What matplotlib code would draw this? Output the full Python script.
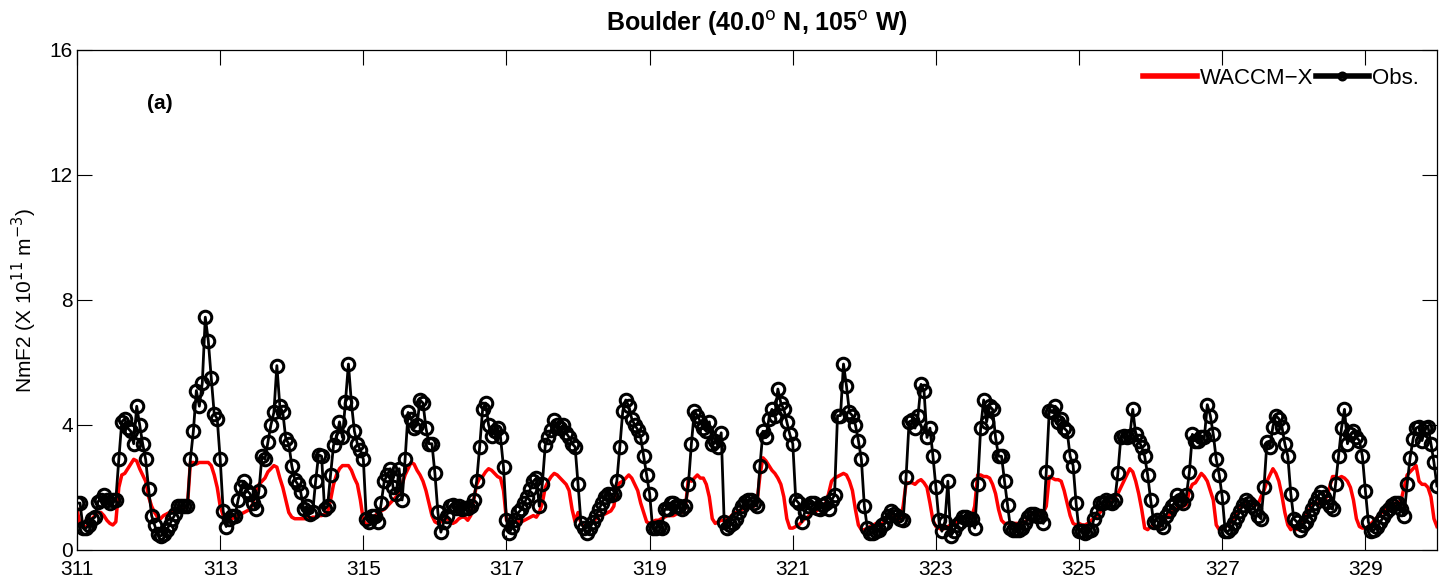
import numpy as np
import matplotlib
matplotlib.use("Agg")
import matplotlib.pyplot as plt

plt.rcParams["font.family"] = ["Liberation Sans", "DejaVu Sans"]

days = list(range(311, 330))

# observed NmF2, hourly values per day (x 10^11 m^-3)
obs_311 = [1.5, 1.5, 0.7, 0.7, 0.8, 1.0, 1.05, 1.55, 1.6, 1.75, 1.6, 1.5, 1.6, 1.6, 2.9, 4.1, 4.2, 3.9, 3.8, 3.4, 4.6, 4.0, 3.4, 2.9]
obs_312 = [1.95, 1.1, 0.8, 0.5, 0.45, 0.5, 0.65, 0.8, 1.0, 1.15, 1.4, 1.4, 1.4, 1.4, 2.9, 3.8, 5.1, 4.6, 5.35, 7.45, 6.7, 5.5, 4.35, 4.2]
obs_313 = [2.9, 1.25, 0.75, 1.0, 1.1, 1.1, 1.6, 2.0, 2.2, 1.9, 1.8, 1.5, 1.3, 1.9, 3.0, 2.9, 3.45, 4.0, 4.4, 5.9, 4.6, 4.4, 3.55, 3.4]
obs_314 = [2.7, 2.25, 2.1, 1.85, 1.3, 1.4, 1.15, 1.2, 2.2, 3.05, 3.0, 1.3, 1.4, 2.4, 3.35, 3.6, 4.1, 3.6, 4.75, 5.95, 4.7, 3.8, 3.4, 3.2]
obs_315 = [2.9, 1.0, 0.9, 1.1, 1.1, 0.9, 1.5, 2.2, 2.4, 2.6, 2.0, 1.8, 2.6, 1.6, 2.9, 4.4, 4.2, 3.9, 4.0, 4.8, 4.7, 3.9, 3.4, 3.4]
obs_316 = [2.45, 1.2, 0.57, 0.9, 1.1, 1.4, 1.45, 1.35, 1.4, 1.3, 1.35, 1.35, 1.4, 1.6, 2.2, 3.3, 4.5, 4.7, 4.0, 3.65, 3.8, 3.9, 3.6, 2.65]
obs_317 = [0.95, 0.55, 0.75, 0.95, 1.2, 1.3, 1.5, 1.7, 1.95, 2.2, 2.3, 1.4, 2.1, 3.35, 3.6, 3.85, 4.15, 4.0, 3.9, 4.0, 3.75, 3.6, 3.4, 3.3]
obs_318 = [2.1, 0.85, 0.7, 0.55, 0.7, 0.9, 1.1, 1.3, 1.5, 1.7, 1.8, 1.75, 1.8, 2.2, 3.3, 4.45, 4.8, 4.6, 4.2, 4.0, 3.85, 3.6, 3.0, 2.4]
obs_319 = [1.8, 0.7, 0.7, 0.75, 0.7, 1.3, 1.3, 1.5, 1.5, 1.4, 1.4, 1.3, 1.4, 2.1, 3.4, 4.45, 4.3, 4.1, 3.9, 3.8, 4.1, 3.4, 3.5, 3.3]
obs_320 = [3.75, 0.9, 0.7, 0.8, 0.85, 1.0, 1.2, 1.4, 1.55, 1.6, 1.6, 1.5, 1.4, 2.7, 3.8, 3.6, 4.2, 4.5, 4.3, 5.15, 4.7, 4.5, 4.1, 3.7]
obs_321 = [3.4, 1.6, 1.5, 0.9, 1.2, 1.4, 1.5, 1.5, 1.35, 1.3, 1.45, 1.5, 1.3, 1.6, 1.75, 4.3, 4.3, 5.95, 5.25, 4.4, 4.3, 4.0, 3.5, 2.9]
obs_322 = [1.4, 0.7, 0.55, 0.55, 0.6, 0.65, 0.8, 0.85, 1.1, 1.25, 1.15, 1.1, 1.0, 0.95, 2.35, 4.1, 4.15, 3.9, 4.3, 5.3, 5.1, 3.6, 3.9, 3.0]
obs_323 = [2.0, 0.95, 0.6, 0.9, 2.2, 0.45, 0.6, 0.8, 0.9, 1.05, 1.05, 1.0, 1.0, 0.7, 2.1, 3.9, 4.8, 4.1, 4.6, 4.5, 3.6, 3.0, 3.0, 2.2]
obs_324 = [1.45, 0.7, 0.65, 0.65, 0.65, 0.7, 0.85, 1.05, 1.15, 1.15, 1.1, 1.1, 0.85, 2.5, 4.45, 4.4, 4.6, 4.1, 4.2, 3.9, 3.8, 3.0, 2.7, 1.5]
obs_325 = [0.6, 0.6, 0.55, 0.6, 0.65, 1.0, 1.2, 1.5, 1.5, 1.6, 1.55, 1.5, 1.6, 2.45, 3.6, 3.65, 3.6, 3.65, 4.5, 3.7, 3.5, 3.3, 3.0, 2.4]
obs_326 = [1.6, 0.9, 0.95, 0.85, 0.75, 1.1, 1.25, 1.4, 1.5, 1.75, 1.6, 1.5, 1.75, 2.5, 3.7, 3.5, 3.5, 3.6, 3.6, 4.65, 4.3, 3.7, 2.9, 2.4]
obs_327 = [1.7, 0.6, 0.6, 0.7, 0.85, 1.05, 1.25, 1.45, 1.6, 1.5, 1.4, 1.3, 1.1, 1.0, 2.0, 3.45, 3.3, 3.95, 4.3, 4.2, 3.95, 3.4, 3.0, 1.8]
obs_328 = [1.0, 0.9, 0.65, 0.8, 0.9, 1.1, 1.3, 1.5, 1.7, 1.85, 1.7, 1.55, 1.4, 1.3, 2.1, 3.0, 3.9, 4.5, 3.4, 3.7, 3.8, 3.6, 3.5, 3.0]
obs_329 = [1.9, 0.9, 0.6, 0.65, 0.75, 0.9, 1.05, 1.2, 1.3, 1.45, 1.5, 1.5, 1.3, 1.1, 2.1, 2.95, 3.55, 3.9, 3.95, 3.5, 3.9, 3.95, 3.4, 2.8]
obs_end = 2.05

# WACCM-X NmF2, hourly values per day
mod_311 = [1.3, 0.8, 0.75, 0.75, 0.8, 1.0, 1.1, 1.2, 1.2, 1.1, 0.95, 0.85, 0.8, 0.9, 2.0, 2.4, 2.45, 2.6, 2.75, 2.9, 2.85, 2.6, 2.4, 2.2]
mod_312 = [1.7, 1.4, 1.2, 1.05, 1.0, 1.1, 1.15, 1.2, 1.25, 1.3, 1.3, 1.3, 1.35, 1.4, 2.8, 2.8, 2.75, 2.8, 2.8, 2.8, 2.8, 2.7, 2.4, 2.0]
mod_313 = [1.4, 1.1, 0.95, 0.95, 1.0, 1.05, 1.1, 1.15, 1.2, 1.25, 1.3, 1.5, 1.9, 2.1, 2.2, 2.3, 2.5, 2.6, 2.7, 2.65, 2.3, 2.0, 1.6, 1.2]
mod_314 = [1.05, 1.0, 1.0, 1.0, 1.0, 1.0, 1.0, 1.05, 1.05, 1.1, 1.1, 1.15, 1.2, 1.6, 2.1, 2.4, 2.6, 2.7, 2.7, 2.7, 2.55, 2.3, 2.1, 1.6]
mod_315 = [0.95, 0.8, 0.85, 1.0, 1.1, 1.2, 1.25, 1.3, 1.4, 1.5, 1.6, 1.7, 1.8, 2.1, 2.4, 2.6, 2.8, 2.75, 2.55, 2.4, 2.2, 1.9, 1.5, 1.1]
mod_316 = [0.9, 0.85, 0.9, 0.95, 1.0, 0.95, 0.85, 0.9, 1.0, 1.05, 1.05, 0.95, 1.1, 1.6, 2.1, 2.3, 2.35, 2.5, 2.6, 2.55, 2.45, 2.35, 2.3, 1.9]
mod_317 = [0.95, 0.9, 0.9, 0.9, 0.9, 0.9, 0.95, 1.0, 1.05, 1.1, 1.05, 1.2, 1.5, 2.0, 2.2, 2.35, 2.45, 2.4, 2.3, 2.2, 2.1, 1.9, 1.3, 0.9]
mod_318 = [1.2, 0.85, 0.75, 0.75, 0.8, 0.9, 1.0, 1.1, 1.1, 1.15, 1.2, 1.25, 1.4, 2.0, 2.15, 2.2, 2.3, 2.4, 2.3, 2.1, 1.9, 1.5, 1.2, 0.9]
mod_319 = [0.85, 0.9, 0.95, 0.95, 1.0, 1.05, 1.1, 1.1, 1.1, 1.15, 1.2, 1.2, 1.35, 2.3, 2.2, 2.3, 2.4, 2.3, 2.3, 2.1, 1.7, 1.0, 0.85, 0.9]
mod_320 = [0.95, 0.95, 1.0, 1.05, 1.15, 1.2, 1.25, 1.3, 1.35, 1.4, 1.4, 1.4, 1.5, 2.4, 2.95, 2.85, 2.7, 2.55, 2.45, 2.3, 2.1, 1.7, 1.0, 0.7]
mod_321 = [0.7, 0.75, 0.8, 0.9, 1.0, 1.05, 1.15, 1.2, 1.25, 1.35, 1.4, 1.5, 1.8, 2.2, 2.3, 2.35, 2.4, 2.45, 2.4, 2.2, 1.9, 1.3, 0.8, 0.65]
mod_322 = [0.65, 0.7, 0.75, 0.8, 0.85, 0.8, 0.85, 0.95, 1.05, 1.1, 1.1, 1.05, 0.95, 1.4, 2.15, 2.15, 2.15, 2.1, 2.2, 2.25, 2.15, 2.0, 1.5, 0.95]
mod_323 = [0.75, 0.7, 0.65, 0.7, 0.75, 0.8, 0.85, 0.9, 0.95, 1.0, 1.05, 1.05, 1.05, 1.4, 2.4, 2.4, 2.35, 2.35, 2.3, 2.1, 1.8, 1.3, 0.95, 0.85]
mod_324 = [0.85, 0.85, 0.85, 0.85, 0.85, 0.85, 0.9, 1.0, 1.15, 1.2, 1.2, 1.2, 1.2, 1.4, 2.35, 2.3, 2.25, 2.25, 2.2, 1.9, 1.5, 1.1, 0.85, 0.8]
mod_325 = [0.85, 0.8, 0.8, 0.85, 0.95, 1.0, 1.1, 1.2, 1.3, 1.35, 1.45, 1.55, 1.7, 1.8, 2.0, 2.2, 2.4, 2.6, 2.5, 2.2, 1.8, 1.3, 0.7, 0.65]
mod_326 = [0.75, 0.7, 0.7, 0.75, 0.85, 1.0, 1.1, 1.2, 1.3, 1.35, 1.35, 1.4, 1.45, 1.9, 2.1, 2.15, 2.3, 2.45, 2.35, 2.2, 1.9, 1.6, 0.8, 0.65]
mod_327 = [0.7, 0.75, 0.8, 0.9, 1.05, 1.2, 1.35, 1.4, 1.45, 1.45, 1.45, 1.45, 1.45, 1.7, 1.9, 2.2, 2.4, 2.6, 2.45, 2.2, 1.75, 1.2, 0.8, 0.65]
mod_328 = [0.75, 0.65, 0.75, 0.9, 1.1, 1.25, 1.4, 1.5, 1.5, 1.45, 1.5, 1.7, 2.0, 2.35, 2.35, 2.3, 2.35, 2.3, 2.2, 2.0, 1.6, 1.0, 0.75, 0.7]
mod_329 = [0.7, 0.75, 0.85, 0.95, 1.05, 1.15, 1.25, 1.3, 1.35, 1.4, 1.5, 1.5, 1.6, 2.0, 2.4, 2.5, 2.6, 2.7, 2.2, 2.1, 2.1, 2.0, 1.7, 1.0]
mod_end = 0.75

obs_days = [obs_311, obs_312, obs_313, obs_314, obs_315, obs_316, obs_317, obs_318, obs_319, obs_320,
            obs_321, obs_322, obs_323, obs_324, obs_325, obs_326, obs_327, obs_328, obs_329]
mod_days = [mod_311, mod_312, mod_313, mod_314, mod_315, mod_316, mod_317, mod_318, mod_319, mod_320,
            mod_321, mod_322, mod_323, mod_324, mod_325, mod_326, mod_327, mod_328, mod_329]

obs = np.concatenate([np.array(v) for v in obs_days] + [[obs_end]])
mod = np.concatenate([np.array(v) for v in mod_days] + [[mod_end]])
hours = np.arange(len(days) * 24 + 1)
t = days[0] + hours / 24.0

fig = plt.figure(figsize=(14.43, 5.81), dpi=100)
ax = fig.add_axes([0.0534, 0.0534, 0.9424, 0.8606])

ax.plot(t, mod, color="red", lw=2.5, label="WACCM\u2212X")
ax.plot(t, obs, color="black", lw=2, marker="o", ms=9, mfc="none", mew=2.2, label="Obs.")

ax.set_xlim(311, 330)
ax.set_ylim(0, 16)
ax.set_xticks(range(311, 330, 2))
ax.set_yticks([0, 4, 8, 12, 16])
ax.tick_params(direction="in", length=10.5, labelsize=15, top=True, right=True, width=0.8)
ax.tick_params(axis="x", pad=7)
ax.tick_params(axis="y", pad=3)
for s in ax.spines.values():
    s.set_linewidth(0.9)

ax.set_ylabel("NmF2 (X 10$^{11}$ m$^{-3}$)", fontsize=15, labelpad=8)
ax.set_title("Boulder (40.0$^{\\rm o}$ N, 105$^{\\rm o}$ W)", fontsize=18, fontweight="bold", pad=14)
ax.text(311.98, 14.3, "(a)", fontsize=15, fontweight="bold", va="center")

leg = ax.legend(loc="upper right", ncol=2, frameon=False, fontsize=16, handlelength=2.4,
                columnspacing=0.1, handletextpad=0.15, borderaxespad=0.4)
leg.legend_handles[0].set_linewidth(4)
leg.legend_handles[1].set_linewidth(4)
leg.legend_handles[1].set_markersize(5)

fig.savefig("out.png", dpi=100)
